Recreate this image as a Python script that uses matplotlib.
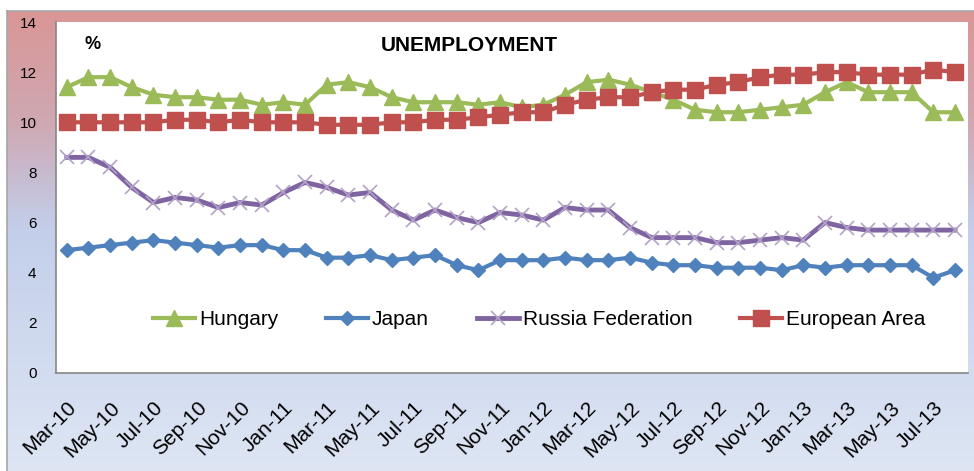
import numpy as np
import matplotlib
matplotlib.use("Agg")
import matplotlib.pyplot as plt

plt.rcParams['font.family'] = ['Liberation Sans', 'DejaVu Sans']

months = ['Mar-10', 'Apr-10', 'May-10', 'Jun-10', 'Jul-10', 'Aug-10', 'Sep-10', 'Oct-10',
          'Nov-10', 'Dec-10', 'Jan-11', 'Feb-11', 'Mar-11', 'Apr-11', 'May-11', 'Jun-11',
          'Jul-11', 'Aug-11', 'Sep-11', 'Oct-11', 'Nov-11', 'Dec-11', 'Jan-12', 'Feb-12',
          'Mar-12', 'Apr-12', 'May-12', 'Jun-12', 'Jul-12', 'Aug-12', 'Sep-12', 'Oct-12',
          'Nov-12', 'Dec-12', 'Jan-13', 'Feb-13', 'Mar-13', 'Apr-13', 'May-13', 'Jun-13',
          'Jul-13', 'Aug-13']

hungary = [11.4, 11.8, 11.8, 11.4, 11.1, 11.0, 11.0, 10.9, 10.9, 10.7, 10.8, 10.7,
           11.5, 11.6, 11.4, 11.0, 10.8, 10.8, 10.8, 10.7, 10.8, 10.6, 10.7, 11.1,
           11.6, 11.7, 11.5, 11.2, 10.9, 10.5, 10.4, 10.4, 10.5, 10.6, 10.7, 11.2,
           11.6, 11.2, 11.2, 11.2, 10.4, 10.4]
japan = [4.9, 5.0, 5.1, 5.2, 5.3, 5.2, 5.1, 5.0, 5.1, 5.1, 4.9, 4.9,
         4.6, 4.6, 4.7, 4.5, 4.6, 4.7, 4.3, 4.1, 4.5, 4.5, 4.5, 4.6,
         4.5, 4.5, 4.6, 4.4, 4.3, 4.3, 4.2, 4.2, 4.2, 4.1, 4.3, 4.2,
         4.3, 4.3, 4.3, 4.3, 3.8, 4.1]
russia = [8.6, 8.6, 8.2, 7.4, 6.8, 7.0, 6.9, 6.6, 6.8, 6.7, 7.2, 7.6,
          7.4, 7.1, 7.2, 6.5, 6.1, 6.5, 6.2, 6.0, 6.4, 6.3, 6.1, 6.6,
          6.5, 6.5, 5.8, 5.4, 5.4, 5.4, 5.2, 5.2, 5.3, 5.4, 5.3, 6.0,
          5.8, 5.7, 5.7, 5.7, 5.7, 5.7]
europe = [10.0, 10.0, 10.0, 10.0, 10.0, 10.1, 10.1, 10.0, 10.1, 10.0, 10.0, 10.0,
          9.9, 9.9, 9.9, 10.0, 10.0, 10.1, 10.1, 10.2, 10.3, 10.4, 10.4, 10.7,
          10.9, 11.0, 11.0, 11.2, 11.3, 11.3, 11.5, 11.6, 11.8, 11.9, 11.9, 12.0,
          12.0, 11.9, 11.9, 11.9, 12.1, 12.0]

W, H = 974, 471
fig = plt.figure(figsize=(W / 100, H / 100), dpi=100)

# gradient background (pink at top -> blue at bottom)
bg = fig.add_axes([7 / W, 0, 1 - 7 / W, 1 - 11 / H])
rows = np.arange(11, H)
stops = [11, 122, 172, 230, 471]
r = np.interp(rows, stops, [218, 207, 200, 195, 222])
g = np.interp(rows, stops, [150, 168, 186, 207, 230])
b = np.interp(rows, stops, [149, 178, 206, 234, 244])
grad = np.stack([r, g, b], axis=-1)[:, None, :] / 255.0
bg.imshow(grad, aspect='auto', extent=[0, 1, 0, 1])
bg.set_xticks([])
bg.set_yticks([])
for s in ['right', 'bottom']:
    bg.spines[s].set_visible(False)
for s in ['left', 'top']:
    bg.spines[s].set_color('#A6A6A6')
    bg.spines[s].set_linewidth(1.2)
bg.set_zorder(0)

ax = fig.add_axes([56 / W, 1 - 373 / H, 912 / W, 351 / H])
ax.set_zorder(2)
ax.set_facecolor('white')

x = np.arange(len(months))
ax.plot(x, hungary, color='#9BBB59', lw=3, marker='^', ms=11, mec='#9BBB59', label='Hungary')
ax.plot(x, japan, color='#4F81BD', lw=3, marker='D', ms=7.5, mec='#4F81BD', label='Japan')
ax.plot(x, russia, color='#8064A2', lw=3.5, marker='x', ms=10, mec='#B3A2C7', mew=1.2,
        label='Russia Federation')
ax.plot(x, europe, color='#C0504D', lw=3, marker='s', ms=11.5, mec='#C0504D', label='European Area')

ax.set_xlim(-0.5, 41.6)
ax.set_ylim(0, 14)
ax.set_yticks(np.arange(0, 15, 2))
ax.set_xticks(x[::2])
ax.set_xticklabels(months[::2], rotation=45, ha='right', rotation_mode='anchor', fontsize=15)
ax.tick_params(axis='y', length=0, pad=14, labelsize=11)
ax.tick_params(axis='x', length=0, pad=18)

for s in ['top', 'right']:
    ax.spines[s].set_visible(False)
for s in ['left', 'bottom']:
    ax.spines[s].set_color('#868686')
    ax.spines[s].set_linewidth(1.2)

ax.text(0.453, 0.932, 'UNEMPLOYMENT', transform=ax.transAxes, ha='center', va='center',
        fontsize=15, fontweight='bold')
ax.text(0.0406, 0.937, '%', transform=ax.transAxes, ha='center', va='center',
        fontsize=13, fontweight='bold')

ax.legend(loc='center', bbox_to_anchor=(0.53, 0.151), ncol=4, frameon=False, fontsize=15,
          handlelength=2.0, handletextpad=0.2, columnspacing=2.3, numpoints=1)

fig.savefig('out.png', dpi=100)
